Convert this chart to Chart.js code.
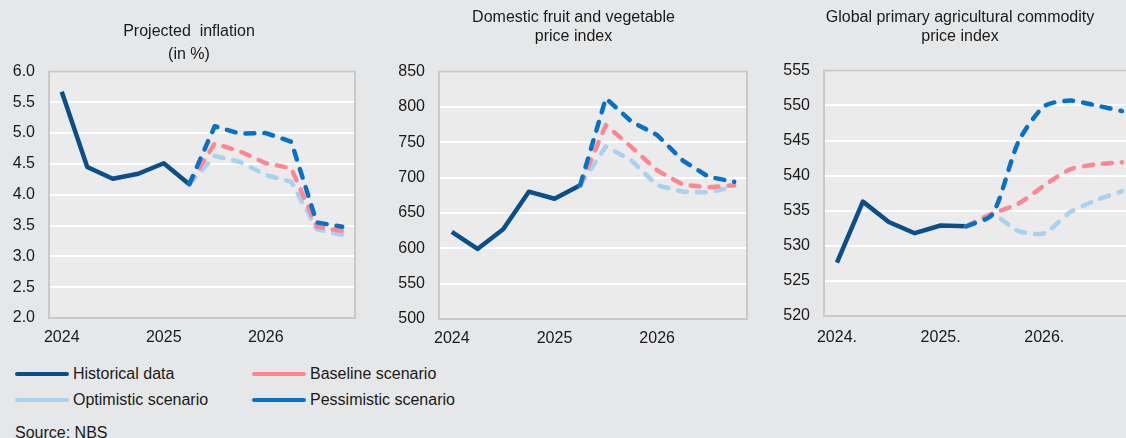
<!DOCTYPE html>
<html lang="en">
<head>
    <meta charset="UTF-8">
    <title>Inflation projection scenarios</title>
    <style>
        body {
            margin: 0;
            background-color: #e6e7e9;
            font-family: 'Liberation Sans', Arial, sans-serif;
            color: #1a1a1a;
        }
        #wrap {
            position: relative;
            width: 1126px;
            height: 438px;
            overflow: hidden;
        }
        canvas {
            position: absolute;
            top: 0;
        }
        .legend-row {
            position: absolute;
            display: flex;
            align-items: center;
            height: 16px;
            line-height: 16px;
            font-size: 16px;
        }
        .swatch {
            width: 54px;
            height: 4px;
            border-radius: 2px;
            margin-right: 4px;
        }
        #source {
            position: absolute;
            left: 15px;
            top: 425px;
            font-size: 16px;
            line-height: 16px;
        }
    </style>
</head>
<body>
<div id="wrap">
    <canvas id="inflChart" width="378" height="350" style="left:0px"></canvas>
    <canvas id="fruitChart" width="387" height="350" style="left:380px"></canvas>
    <canvas id="agriChart" width="360" height="350" style="left:780px"></canvas>

    <div class="legend-row" style="left:15px;top:366px"><span class="swatch" style="background:#0b4f8a"></span>Historical data</div>
    <div class="legend-row" style="left:252px;top:366px"><span class="swatch" style="background:#ff8793"></span>Baseline scenario</div>
    <div class="legend-row" style="left:15px;top:392px"><span class="swatch" style="background:#a8d2ef"></span>Optimistic scenario</div>
    <div class="legend-row" style="left:252px;top:392px"><span class="swatch" style="background:#0571c9"></span>Pessimistic scenario</div>
    <div id="source">Source: NBS</div>
</div>

<script src="https://cdn.jsdelivr.net/npm/chart.js"></script>
<script>
    // quarterly axis, 2024 Q1 .. 2026 Q4 (only the first quarter of each year is labelled)
    const quarters = ['2024', '', '', '', '2025', '', '', '', '2026', '', '', ''];
    const quartersDot = ['2024.', '', '', '', '2025.', '', '', '', '2026.', '', '', ''];

    // Projected inflation (in %)
    const inflHist = [5.67, 4.45, 4.26, 4.34, 4.51, 4.17, null, null, null, null, null, null];
    const inflBase = [null, null, null, null, null, 4.17, 4.83, 4.70, 4.51, 4.43, 3.48, 3.41];
    const inflOpt  = [null, null, null, null, null, 4.17, 4.63, 4.53, 4.32, 4.21, 3.44, 3.35];
    const inflPess = [null, null, null, null, null, 4.17, 5.11, 4.99, 5.00, 4.86, 3.55, 3.48];

    // Domestic fruit and vegetable price index
    const fruitHist = [623, 599, 627, 680, 670, 689, null, null, null, null, null, null];
    const fruitBase = [null, null, null, null, null, 689, 774, 743, 710, 690, 686, 689];
    const fruitOpt  = [null, null, null, null, null, 689, 744, 724, 689, 680, 679, 687];
    const fruitPess = [null, null, null, null, null, 689, 812, 779, 760, 724, 701, 694];

    // Global primary agricultural commodity price index
    const agriHist = [527.6, 536.3, 533.4, 531.8, 532.9, 532.8, null, null, null, null, null, null];
    const agriBase = [null, null, null, null, null, 532.8, 534.6, 536.0, 538.6, 540.9, 541.6, 541.9];
    const agriOpt  = [null, null, null, null, null, 532.8, 534.4, 532.1, 531.8, 534.8, 536.5, 537.8];
    const agriPess = [null, null, null, null, null, 532.8, 534.5, 544.8, 549.9, 550.7, 550.0, 549.2];

    const colors = {
        hist: '#0b4f8a',
        base: '#ff8793',
        opt: '#a8d2ef',
        pess: '#0571c9'
    };

    Chart.defaults.font.family = "'Liberation Sans', Arial, sans-serif";
    Chart.defaults.font.size = 16;
    Chart.defaults.color = '#1a1a1a';

    // grey plot area with a light border, like the spreadsheet original
    const plotFrame = {
        id: 'plotFrame',
        beforeDraw(chart) {
            const a = chart.chartArea;
            const ctx = chart.ctx;
            ctx.save();
            ctx.fillStyle = '#ebebeb';
            ctx.fillRect(a.left, a.top, a.right - a.left, a.bottom - a.top);
            ctx.restore();
        },
        beforeDatasetsDraw(chart) {
            const a = chart.chartArea;
            const ctx = chart.ctx;
            ctx.save();
            ctx.strokeStyle = '#c9c9c9';
            ctx.lineWidth = 2;
            ctx.strokeRect(a.left, a.top, a.right - a.left, a.bottom - a.top);
            ctx.restore();
        }
    };

    function line(data, color, dashed, order, tension) {
        return {
            data: data,
            yAxisID: 'y',
            borderColor: color,
            borderWidth: 4.5,
            borderDash: dashed ? [9, 10] : [],
            borderCapStyle: dashed ? 'round' : 'butt',
            borderJoinStyle: 'round',
            pointRadius: 0,
            tension: tension || 0,
            spanGaps: false,
            order: order
        };
    }

    function makeChart(id, cfg) {
        const ctx = document.getElementById(id).getContext('2d');
        return new Chart(ctx, {
            type: 'line',
            data: {
                labels: cfg.labels,
                datasets: [
                    line(cfg.hist, colors.hist, false, 3),
                    line(cfg.opt, colors.opt, true, 2, cfg.tension),
                    line(cfg.base, colors.base, true, 1, cfg.tension),
                    line(cfg.pess, colors.pess, true, 0, cfg.tension)
                ]
            },
            options: {
                responsive: false,
                animation: false,
                events: [],
                layout: { padding: 0 },
                plugins: {
                    legend: { display: false },
                    tooltip: { enabled: false },
                    title: {
                        display: true,
                        text: cfg.title,
                        font: { size: 16, weight: 'normal', lineHeight: cfg.titleLineHeight },
                        color: '#1a1a1a',
                        padding: cfg.titlePadding
                    }
                },
                scales: {
                    x: {
                        offset: true,
                        grid: { display: false },
                        border: { display: false },
                        ticks: { autoSkip: false, maxRotation: 0, padding: cfg.xPad },
                        afterFit: s => { s.height = cfg.xHeight; }
                    },
                    y: {
                        min: cfg.min,
                        max: cfg.max,
                        grid: { color: '#ffffff', lineWidth: 2, drawTicks: false },
                        border: { display: false },
                        ticks: {
                            stepSize: cfg.step,
                            padding: 14,
                            callback: v => cfg.decimals ? v.toFixed(cfg.decimals) : v
                        },
                        afterFit: s => { s.width = cfg.yWidth; }
                    },
                    // empty right-hand axis, only keeps the gap right of the plot
                    gap: {
                        axis: 'y',
                        position: 'right',
                        grid: { display: false },
                        border: { display: false },
                        ticks: { display: false },
                        afterFit: s => { s.width = cfg.rightGap; }
                    }
                }
            },
            plugins: [plotFrame]
        });
    }

    makeChart('inflChart', {
        labels: quarters,
        hist: inflHist, base: inflBase, opt: inflOpt, pess: inflPess,
        title: ['Projected  inflation', '(in %)'],
        titleLineHeight: 1.45,
        titlePadding: { top: 20, bottom: 5 },
        min: 2, max: 6, step: 0.5, decimals: 1,
        yWidth: 49, rightGap: 23,
        xHeight: 32, xPad: 2
    });

    makeChart('fruitChart', {
        labels: quarters,
        hist: fruitHist, base: fruitBase, opt: fruitOpt, pess: fruitPess,
        title: ['Domestic fruit and vegetable', 'price index'],
        titleLineHeight: 1.2,
        titlePadding: { top: 8, bottom: 25 },
        min: 500, max: 850, step: 50, decimals: 0,
        yWidth: 59, rightGap: 20,
        xHeight: 31, xPad: 2
    });

    makeChart('agriChart', {
        labels: quartersDot,
        hist: agriHist, base: agriBase, opt: agriOpt, pess: agriPess,
        title: ['Global primary agricultural commodity', 'price index'],
        titleLineHeight: 1.2,
        titlePadding: { top: 8, bottom: 24 },
        min: 520, max: 555, step: 5, decimals: 0,
        yWidth: 44, rightGap: 5,
        xHeight: 34, xPad: 4,
        tension: 0.25
    });
</script>
</body>
</html>
